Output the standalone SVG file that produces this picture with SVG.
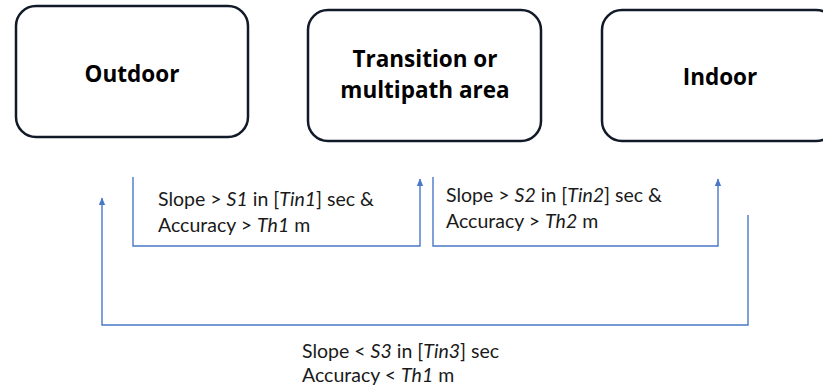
<svg xmlns="http://www.w3.org/2000/svg" width="823" height="392" viewBox="0 0 823 392">
<style>
.box{fill:#fff;stroke:#111a28;stroke-width:2.5}
.title{font-family:"Open Sans","Liberation Sans",sans-serif;font-weight:700;font-size:22.5px;fill:#000;text-anchor:middle}
.lbl{font-family:Lato,"Liberation Sans",sans-serif;font-size:19.5px;fill:#1a1a1a}
.con{fill:none;stroke:#4a78c8;stroke-width:1.4}
</style>
<defs>
<marker id="arr" markerWidth="8" markerHeight="8" refX="7" refY="4" orient="auto" markerUnits="userSpaceOnUse">
<path d="M0,0.8 L7.5,4 L0,7.2 Z" fill="#4a78c8"/>
</marker>
</defs>
<rect width="823" height="392" fill="#fff"/>
<g id="outdoor">
<rect class="box" x="16" y="6" width="232" height="131" rx="20"/>
<text class="title" x="132" y="82">Outdoor</text>
</g>
<g id="transition">
<rect class="box" x="308" y="10" width="233" height="131" rx="20"/>
<text class="title" x="425" y="67">Transition or</text>
<text class="title" x="425" y="98">multipath area</text>
</g>
<g id="indoor">
<rect class="box" x="602" y="10" width="234" height="131" rx="20"/>
<text class="title" x="720" y="85">Indoor</text>
</g>
<g id="connectors">
<path class="con" d="M133,177 V246 H420 V179" marker-end="url(#arr)"/>
<path class="con" d="M433,177 V246 H718 V179" marker-end="url(#arr)"/>
<path class="con" d="M748,215 V325 H102 V198" marker-end="url(#arr)"/>
</g>
<g id="labels">
<text class="lbl" x="158" y="206">Slope &gt; <tspan font-style="italic">S1</tspan> in [<tspan font-style="italic">Tin1</tspan>] sec &amp;</text>
<text class="lbl" x="158" y="232">Accuracy &gt; <tspan font-style="italic">Th1</tspan> m</text>
<text class="lbl" x="446" y="202">Slope &gt; <tspan font-style="italic">S2</tspan> in [<tspan font-style="italic">Tin2</tspan>] sec &amp;</text>
<text class="lbl" x="446" y="228">Accuracy &gt; <tspan font-style="italic">Th2</tspan> m</text>
<text class="lbl" x="302" y="358">Slope &lt; <tspan font-style="italic">S3</tspan> in [<tspan font-style="italic">Tin3</tspan>] sec</text>
<text class="lbl" x="302" y="382">Accuracy &lt; <tspan font-style="italic">Th1</tspan> m</text>
</g>
</svg>
